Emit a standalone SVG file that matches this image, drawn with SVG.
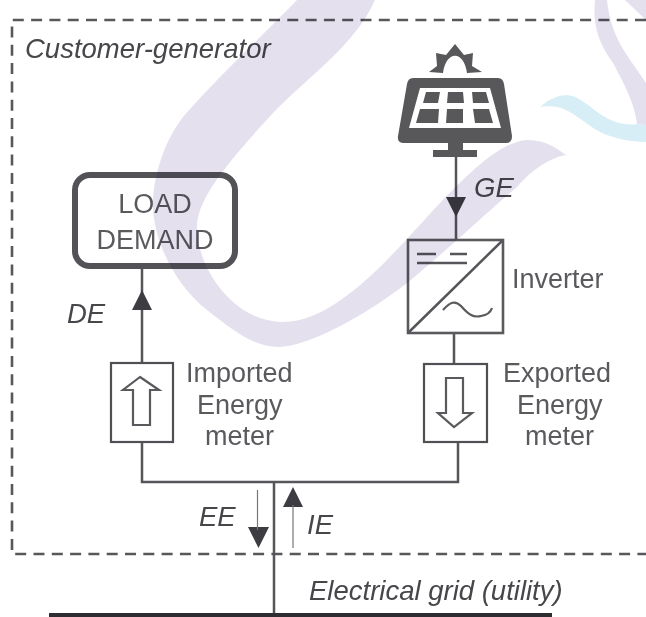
<svg xmlns="http://www.w3.org/2000/svg" width="646" height="617" viewBox="0 0 646 617">
<style>
.t{font-family:"Liberation Sans",Arial,sans-serif;font-size:27px;fill:#5a5a5e}
.m{text-anchor:middle}
.i{font-family:"Liberation Sans",Arial,sans-serif;font-size:27.5px;font-style:italic;fill:#47474b}
.c{stroke:#55555a;stroke-width:2.5;fill:none}
.b{stroke:#5a5a5e;stroke-width:2.2;fill:none}
.h{fill:#3c3c42}
.p{fill:#58585a}
.wm{mix-blend-mode:multiply}
</style>
<rect width="646" height="617" fill="#fff"/>
<g id="boundary"><path d="M646 20H12V554H646" fill="none" stroke="#58585c" stroke-width="2.6" stroke-dasharray="11 7.3"/></g>
<g id="connectors">
<path class="c" d="M142 269V363M142 442V482H458V442M454 333V364M456 157V240M274 482V613"/>
<path class="h" d="M142 290L132 310H152ZM456 217L446 197H466ZM258.500 548L248 527H269ZM293 487L283 507H303Z"/>
<path d="M257.500 490V530M293 505V548" stroke="#77777a" stroke-width="1.2" fill="none"/>
</g>
<g id="load"><rect x="75" y="175" width="160" height="91" rx="15" fill="none" stroke="#535357" stroke-width="6"/><text class="t m" x="155" y="213">LOAD</text><text class="t m" x="155" y="249">DEMAND</text></g>
<g id="pv">
<path class="p" d="M413 78H498Q503 78 504 84L512 136Q512 143 506 143H403Q397 143 398 136L407 84Q408 78 413 78Z"/>
<path d="M420 88H490L501 128H409Z" fill="#fff"/>
<path class="p" d="M426 92H440L438 103H423ZM448 92H463L464 103H447ZM472 92H486L489 103H473ZM420 109H439L438 123H416ZM447 109H463V123H446ZM473 109H489L493 123H475Z"/>
<path class="p" d="M429 72L437 66L436 53L446 55L455 44L464 55L473 53L472 66L482 72L467 73C464 50 446 50 443 73Z"/>
<path class="p" d="M448 143H463V150H477V157H433V150H448Z"/>
</g>
<g id="inverter"><rect x="408" y="240" width="95" height="93" fill="none" stroke="#5a5a5e" stroke-width="2.6"/><path class="c" d="M408 333L503 240M417 254H436M450 254H467M417 263H467"/><path class="b" d="M443 310C450 302 455 300 461 306C468 314 473 318 481 316C488 315 491 311 492 308"/><text class="t" x="512" y="288">Inverter</text></g>
<g id="importmeter"><rect x="111" y="363" width="62" height="79" fill="none" stroke="#505054" stroke-width="2.2"/><path class="b" d="M140 377L159 390H150V425H133V390H123Z"/><text class="t" x="186" y="382">Imported</text><text class="t" x="197" y="414">Energy</text><text class="t" x="205" y="445">meter</text></g>
<g id="exportmeter"><rect x="424" y="364" width="63" height="78" fill="none" stroke="#505054" stroke-width="2.2"/><path class="b" d="M446 378H463V413H472L454 427L438 413H446Z"/><text class="t" x="503" y="382">Exported</text><text class="t" x="517" y="414">Energy</text><text class="t" x="525" y="445">meter</text></g>
<g id="grid"><rect x="49" y="613" width="503" height="4" fill="#2e2e32"/></g>
<text class="i" x="25" y="58">Customer-generator</text>
<text class="i" x="474" y="197">GE</text>
<text class="i" x="67" y="323">DE</text>
<text class="i" x="199" y="526">EE</text>
<text class="i" x="307" y="534">IE</text>
<text class="i" x="309" y="600">Electrical grid (utility)</text>
<g id="watermark" class="wm">
<path fill="#e5e0ee" d="M297 0C270 28 215 80 183 117C165 140 153 175 153 205C153 240 175 285 207 310C235 332 255 347 278 347C310 347 370 312 407 283C445 252 495 205 517 187C530 172 548 158 566 155C550 143 540 140 527 140C500 142 470 172 440 203C400 245 340 322 283 322C235 322 197 270 197 227C197 200 225 165 273 113C310 75 355 45 375 0Z"/>
<path fill="#e5e0ee" d="M595 0C593 25 597 40 613 63C625 85 635 105 637 124L646 125V83C630 58 611 40 607 0ZM625 0L646 20V0Z"/>
<path fill="#d8eef6" d="M540 107C550 98 560 95 567 95C578 96 585 103 600 114C612 122 625 126 637 124L646 125V142C630 142 612 138 600 132C585 124 572 110 557 107C550 106 545 106 540 107Z"/>
</g>
</svg>
